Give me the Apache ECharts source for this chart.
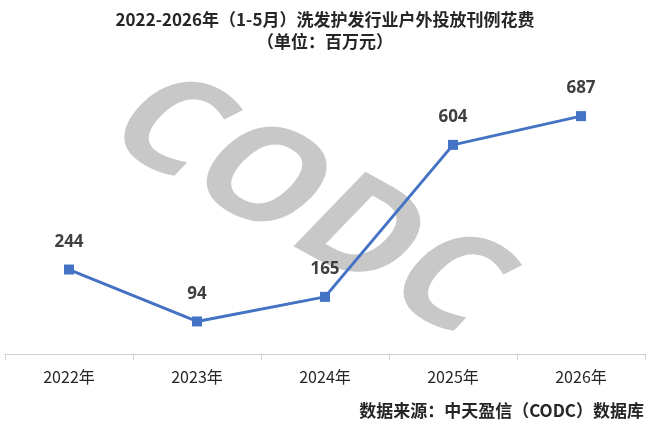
<!DOCTYPE html>
<html><head><meta charset="utf-8">
<script src="https://cdn.jsdelivr.net/npm/echarts@6/dist/echarts.min.js"></script>
<style>html,body{margin:0;padding:0;background:#fff}#c{width:650px;height:428px}</style>
</head><body><div id="c"></div>
<script>
const categories = ['2022年','2023年','2024年','2025年','2026年'];
const values = [244, 94, 165, 604, 687];
const titleLines = ['2022-2026年（1-5月）洗发护发行业户外投放刊例花费','（单位：百万元）'];
const sourceText = '数据来源：中天盈信（CODC）数据库';
const watermark = 'CODC';

const chart = echarts.init(document.getElementById('c'));
chart.setOption({
  backgroundColor: '#fff',
  animation: false,
  title: {
    text: titleLines.join('\n'),
    left: 'center', top: 4,
    textStyle: {fontSize: 17, fontWeight: 'bold', color: '#262626', lineHeight: 22,
      fontFamily: '"Noto Sans CJK SC", "Noto Sans", sans-serif'}
  },
  graphic: [
    {type: 'text', z: 0, x: 307, y: 208, rotation: -29 * Math.PI / 180,
      skewX: -15 * Math.PI / 180, scaleX: 1.05, scaleY: 1.0,
      style: {text: watermark, fill: '#c8c8c8', font: 'bold 140px "Open Sans", "Noto Sans", sans-serif',
        align: 'center', verticalAlign: 'middle'}},
    {type: 'text', right: 6, top: 402,
      style: {text: sourceText, fill: '#262626', font: 'bold 17px "Noto Sans CJK SC", sans-serif'}}
  ],
  grid: {left: 5, right: 5, top: 77, bottom: 74},
  xAxis: {
    type: 'category', data: categories, boundaryGap: true,
    axisLine: {lineStyle: {color: '#d0d0d0', width: 1}},
    axisTick: {show: true, length: 6, lineStyle: {color: '#d0d0d0'}},
    axisLabel: {fontSize: 16, color: '#262626', margin: 15,
      fontFamily: '"Noto Sans CJK SC", "Noto Sans", sans-serif'}
  },
  yAxis: {type: 'value', min: 0, max: 800, show: false, splitLine: {show: false}},
  series: [{
    type: 'line', data: values, z: 5,
    symbol: 'rect', symbolSize: 10,
    lineStyle: {color: '#4472C4', width: 3},
    itemStyle: {color: '#4472C4'},
    label: {show: true, position: 'top', distance: 14, fontSize: 17, fontWeight: 'bold', color: '#404040',
      fontFamily: '"Open Sans", "Noto Sans", sans-serif'}
  }]
});
</script></body></html>
